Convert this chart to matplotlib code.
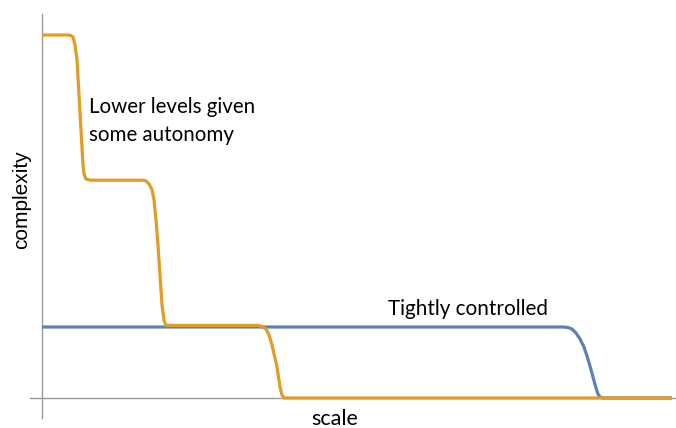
import matplotlib
matplotlib.use("Agg")
import matplotlib.pyplot as plt

# Orange curve: lower levels given some autonomy (key points along the smooth steps)
orange_x = [0, 4.13, 4.60, 4.92, 5.24, 5.56, 6.19, 6.51, 6.67, 6.98, 7.62,
            16.03, 16.51, 16.98, 17.46, 17.78, 18.10, 18.41, 18.73, 19.05, 19.37, 19.68, 20.16,
            34.29, 34.92, 35.56, 36.03, 36.51, 37.30, 37.78, 38.10, 38.41, 38.89, 100]
orange_y = [5.0, 5.0, 4.993, 4.972, 4.862, 4.656, 3.691, 3.209, 3.085, 3.017, 3.0,
            3.0, 2.99, 2.95, 2.87, 2.73, 2.45, 2.11, 1.69, 1.28, 1.07, 1.0, 1.0,
            1.0, 0.985, 0.95, 0.87, 0.73, 0.43, 0.15, 0.04, 0.0, 0.0, 0.0]

# Blue curve: tightly controlled
blue_x = [0, 82.70, 83.49, 84.13, 84.76, 85.40, 86.03, 86.51, 86.98, 87.46,
          87.94, 88.25, 88.57, 89.05, 100]
blue_y = [0.978, 0.978, 0.971, 0.950, 0.895, 0.813, 0.702, 0.579, 0.441, 0.289,
          0.138, 0.055, 0.014, 0.0, 0.0]

label_orange = "Lower levels given\nsome autonomy"
label_blue = "Tightly controlled"
xlabel = "scale"
ylabel = "complexity"

W, H = 676, 428
fig = plt.figure(figsize=(W / 100, H / 100), dpi=100)
ax = fig.add_axes([0, 0, 1, 1])

px_per_x = 6.3
px_per_y = 72.6
x0_px, y0_px = 42, 398
ax.set_xlim(-x0_px / px_per_x, (W - x0_px) / px_per_x)
ax.set_ylim(-(H - y0_px) / px_per_y, y0_px / px_per_y)

ax.plot(blue_x, blue_y, color="#5E81B5", lw=2.3, solid_capstyle="butt",
        solid_joinstyle="round", zorder=3)
ax.plot(orange_x, orange_y, color="#E19C24", lw=2.3, solid_capstyle="butt",
        solid_joinstyle="round", zorder=4)

for s in ["top", "right"]:
    ax.spines[s].set_visible(False)
ax.spines["left"].set_position(("data", 0))
ax.spines["bottom"].set_position(("data", 0))
ax.spines["left"].set_bounds(-(418 - y0_px) / px_per_y, (y0_px - 14) / px_per_y)
ax.spines["bottom"].set_bounds(-(x0_px - 30) / px_per_x, (W - x0_px) / px_per_x)
for s in ["left", "bottom"]:
    ax.spines[s].set_color("#9a9a9a")
    ax.spines[s].set_linewidth(1.0)
ax.set_xticks([])
ax.set_yticks([])
ax.patch.set_alpha(0)

font = "Lato"
fig.text(89 / W, 1 - 121 / H, label_orange, fontsize=14.8, family=font,
         ha="left", va="center", linespacing=1.5, color="black")
fig.text(388 / W, 1 - 309 / H, label_blue, fontsize=14.9, family=font,
         ha="left", va="center", color="black")
fig.text(335 / W, 1 - 419 / H, xlabel, fontsize=15.5, family=font,
         ha="center", va="center", color="black")
fig.text(22 / W, 1 - 200 / H, ylabel, fontsize=15, family="Liberation Sans",
         ha="center", va="center", rotation=90, color="black")

fig.savefig("out.png", dpi=100)
